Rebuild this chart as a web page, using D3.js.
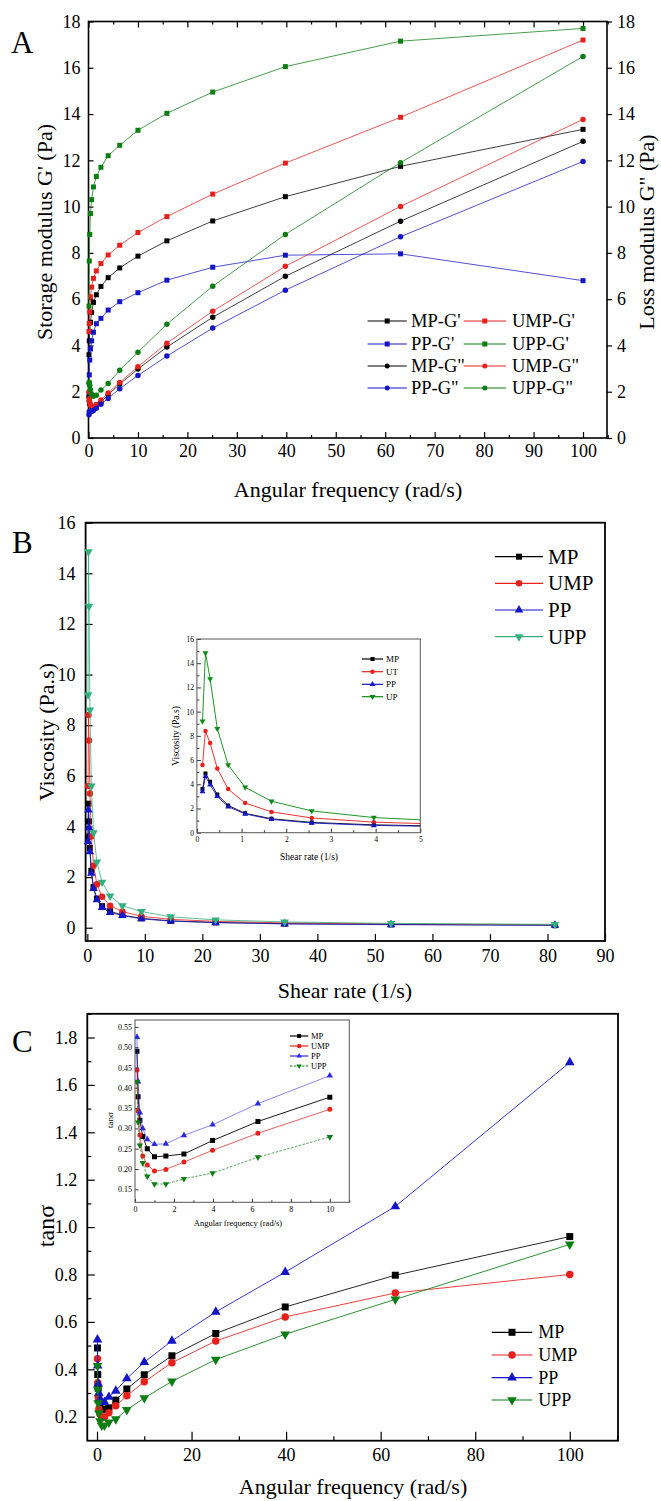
<!DOCTYPE html>
<html><head><meta charset="utf-8">
<script src="https://cdn.jsdelivr.net/npm/d3@7"></script>
<style>
body{margin:0;background:#fff;}
svg{display:block;}
</style></head><body>
<svg id="c" width="661" height="1501"></svg>
<script>
// ---------- DATA ----------
// Panel A: frequency sweep (rad/s)
const freqA = [0.1, 0.158, 0.251, 0.398, 0.631, 1, 1.585, 2.512, 3.981, 6.31, 10, 15.85, 25.12, 39.81, 63.1, 100];
const mpG1  = [3.6, 4.2, 4.6, 5.0, 5.43, 5.86, 6.19, 6.55, 6.93, 7.35, 7.86, 8.52, 9.38, 10.43, 11.74, 13.34];
const umpG1 = [4.6, 4.95, 5.45, 6.1, 6.52, 6.9, 7.22, 7.54, 7.91, 8.33, 8.88, 9.57, 10.54, 11.88, 13.86, 17.2];
const ppG1  = [1.9, 2.73, 3.37, 3.85, 4.2, 4.57, 4.94, 5.17, 5.53, 5.89, 6.28, 6.82, 7.38, 7.9, 7.96, 6.8];
const uppG1 = [5.7, 7.65, 8.8, 9.7, 10.3, 10.85, 11.3, 11.7, 12.2, 12.65, 13.3, 14.03, 14.95, 16.05, 17.15, 17.7];
const mpG2  = [1.76, 1.59, 1.47, 1.4, 1.36, 1.35, 1.44, 1.55, 1.87, 2.33, 2.98, 3.93, 5.22, 6.99, 9.37, 12.82];
const umpG2 = [2.0, 1.7, 1.55, 1.42, 1.37, 1.35, 1.44, 1.64, 1.95, 2.4, 3.08, 4.1, 5.48, 7.42, 10.01, 13.77];
const ppG2  = [1.0, 1.13, 1.14, 1.16, 1.15, 1.19, 1.29, 1.46, 1.71, 2.13, 2.7, 3.54, 4.75, 6.39, 8.7, 11.95];
const uppG2 = [2.37, 2.41, 2.27, 2.09, 1.88, 1.8, 1.85, 2.07, 2.35, 2.93, 3.71, 4.92, 6.56, 8.8, 11.9, 16.49];
const legendA = ["MP-G'", "UMP-G'", "PP-G'", "UPP-G'", 'MP-G"', 'UMP-G"', 'PP-G"', 'UPP-G"'];
const ticksAx = [0, 10, 20, 30, 40, 50, 60, 70, 80, 90, 100];
const ticksAy = [0, 2, 4, 6, 8, 10, 12, 14, 16, 18];

// Panel B: viscosity vs shear rate
const shearB = [0.125, 0.192, 0.296, 0.456, 0.70, 1.08, 1.67, 2.57, 3.96, 6.1, 9.4, 14.5, 22.3, 34.3, 52.8, 81.3];
const mpV  = [3.6, 4.9, 4.2, 3.15, 2.25, 1.6, 1.15, 0.85, 0.65, 0.5, 0.37, 0.27, 0.21, 0.16, 0.13, 0.1];
const umpV = [5.6, 8.4, 7.4, 5.3, 3.6, 2.45, 1.72, 1.22, 0.87, 0.64, 0.45, 0.33, 0.25, 0.19, 0.15, 0.12];
const ppV  = [3.4, 4.65, 3.95, 3.0, 2.15, 1.55, 1.1, 0.8, 0.6, 0.48, 0.35, 0.26, 0.2, 0.15, 0.12, 0.1];
const uppV = [9.2, 14.85, 12.7, 8.6, 5.6, 3.75, 2.6, 1.8, 1.25, 0.87, 0.64, 0.43, 0.31, 0.23, 0.17, 0.13];
const legendB = ["MP", "UMP", "PP", "UPP"];
const legendBi = ["MP", "UT", "PP", "UP"];
const ticksBx = [0, 10, 20, 30, 40, 50, 60, 70, 80, 90];
const ticksBy = [0, 2, 4, 6, 8, 10, 12, 14, 16];
const ticksBix = [0, 1, 2, 3, 4, 5];
const ticksBiy = [0, 2, 4, 6, 8, 10, 12, 14, 16];

// Panel C: tan delta vs angular frequency
const mpT  = [0.49, 0.378, 0.32, 0.28, 0.25, 0.23, 0.232, 0.237, 0.27, 0.317, 0.377, 0.457, 0.551, 0.663, 0.797, 0.96];
const umpT = [0.444, 0.343, 0.284, 0.232, 0.21, 0.195, 0.199, 0.217, 0.246, 0.288, 0.347, 0.428, 0.519, 0.621, 0.722, 0.80];
const ppT  = [0.525, 0.415, 0.339, 0.30, 0.273, 0.261, 0.262, 0.283, 0.309, 0.361, 0.43, 0.52, 0.642, 0.81, 1.087, 1.695];
const uppT = [0.415, 0.315, 0.258, 0.215, 0.182, 0.163, 0.163, 0.176, 0.19, 0.229, 0.279, 0.349, 0.441, 0.548, 0.695, 0.927];
const legendC = ["MP", "UMP", "PP", "UPP"];
const insetCCount = 11; // inset C shows the points up to 10 rad/s
const ticksCx = [0, 20, 40, 60, 80, 100];
const ticksCy = [0.2, 0.4, 0.6, 0.8, 1.0, 1.2, 1.4, 1.6, 1.8];
const ticksCix = [0, 2, 4, 6, 8, 10];
const ticksCiy = [0.15, 0.20, 0.25, 0.30, 0.35, 0.40, 0.45, 0.50, 0.55];

// ---------- DRAWING ----------
const F = "'Liberation Serif','Times New Roman',serif";
const svg = d3.select("#c");
svg.append("rect").attr("width", 661).attr("height", 1501).attr("fill", "#fff");

const C = {black: "#000", red: "#e8201c", blue: "#1515c8", green: "#0b7d12", teal: "#34b07e"};

function symPath(type, s) {
  if (type === "square") return d3.symbol().type(d3.symbolSquare).size(s * s)();
  if (type === "circle") return d3.symbol().type(d3.symbolCircle).size(Math.PI * s * s / 4)();
  if (type === "up" || type === "down") return d3.symbol().type(d3.symbolTriangle).size(s * s * 0.5)();
}
function marker(g, type, s, color, x, y) {
  g.append("path").attr("d", symPath(type, s))
    .attr("transform", `translate(${x},${y})` + (type === "down" ? " rotate(180)" : ""))
    .attr("fill", color).attr("stroke", "none");
}
function series(g, x, y, xs, ys, color, type, s, lw, dash, lineOpacity) {
  const pts = xs.map((v, i) => [v, ys[i]]);
  g.append("path").datum(pts)
    .attr("d", d3.line().x(d => x(d[0])).y(d => y(d[1])))
    .attr("fill", "none").attr("stroke", color).attr("stroke-width", lw)
    .attr("stroke-opacity", lineOpacity == null ? 1 : lineOpacity)
    .attr("stroke-dasharray", dash || null);
  pts.forEach(p => marker(g, type, s, color, x(p[0]), y(p[1])));
}
function addAxis(g, orient, scale, o) {
  const gen = {bottom: d3.axisBottom, top: d3.axisTop, left: d3.axisLeft, right: d3.axisRight}[orient](scale)
    .tickValues(o.values).tickSizeOuter(0).tickSizeInner(o.inward ? -o.size : o.size).tickPadding(o.pad == null ? 4 : o.pad)
    .tickFormat(o.labels ? (o.fmt || d3.format("")) : "");
  const tr = (orient === "bottom" || orient === "top") ? `translate(0,${o.pos})` : `translate(${o.pos},0)`;
  const a = g.append("g").attr("transform", tr).call(gen);
  a.attr("font-family", F);
  a.select(".domain").remove();
  a.selectAll("line").attr("stroke", o.color || "#000").attr("stroke-width", o.sw || 1.2);
  a.selectAll("text").attr("font-family", F).attr("font-size", o.fs || 18).attr("fill", "#000");
  return a;
}
function frame(g, x, y, sw, color) {
  const [x0, x1] = x.range(), [y0, y1] = y.range();
  g.append("rect").attr("x", x0).attr("y", y1).attr("width", x1 - x0).attr("height", y0 - y1)
    .attr("fill", "none").attr("stroke", color || "#000").attr("stroke-width", sw);
}
function text(g, str, x, y, fs, anchor, rot) {
  const t = g.append("text").attr("x", x).attr("y", y).attr("font-family", F).attr("font-size", fs)
    .attr("text-anchor", anchor || "start").attr("fill", "#000").text(str);
  if (rot) t.attr("transform", `rotate(${rot},${x},${y})`);
  return t;
}
function legendItem(g, x0, x1, y, color, type, s, label, fs, tx, dash) {
  g.append("line").attr("x1", x0).attr("x2", x1).attr("y1", y).attr("y2", y)
    .attr("stroke", color).attr("stroke-width", 1.2).attr("stroke-dasharray", dash || null);
  marker(g, type, s, color, (x0 + x1) / 2, y);
  text(g, label, tx, y + fs * 0.34, fs);
}
function range(a, b, step) { return d3.range(a, b + step / 2, step).map(v => +v.toFixed(6)); }

// ===== Panel A =====
{
  const g = svg.append("g");
  const x = d3.scaleLinear().domain([0, 104.85]).range([88.5, 607]);
  const y = d3.scaleLinear().domain([0, 18]).range([438, 21.5]);
  const minorX = range(5, 105, 10);
  addAxis(g, "bottom", x, {pos: 438, values: ticksAx, size: 6, inward: true, labels: true, fs: 18, pad: 6});
  addAxis(g, "bottom", x, {pos: 438, values: minorX, size: 3, inward: true});
  addAxis(g, "top", x, {pos: 21.5, values: ticksAx, size: 6, inward: true});
  addAxis(g, "top", x, {pos: 21.5, values: minorX, size: 3, inward: true});
  addAxis(g, "left", y, {pos: 88.5, values: ticksAy, size: 5, inward: true, labels: true, fs: 18, pad: 8});
  addAxis(g, "right", y, {pos: 607, values: ticksAy, size: 5, inward: false, labels: true, fs: 18, pad: 5});
  frame(g, x, y, 1.6);
  const lw = 1, op = 0.75;
  series(g, x, y, freqA, mpG1, C.black, "square", 5, lw, null, op);
  series(g, x, y, freqA, umpG1, C.red, "square", 5, lw, null, op);
  series(g, x, y, freqA, ppG1, C.blue, "square", 5, lw, null, op);
  series(g, x, y, freqA, uppG1, C.green, "square", 5, lw, null, op);
  series(g, x, y, freqA, mpG2, C.black, "circle", 5.5, lw, null, op);
  series(g, x, y, freqA, umpG2, C.red, "circle", 5.5, lw, null, op);
  series(g, x, y, freqA, ppG2, C.blue, "circle", 5.5, lw, null, op);
  series(g, x, y, freqA, uppG2, C.green, "circle", 5.5, lw, null, op);
  // legend
  const cols = [[367.6, 406.8, 411], [463.7, 505.9, 512]];
  const rows = [321, 344, 366, 388];
  const lc = [C.black, C.red, C.blue, C.green, C.black, C.red, C.blue, C.green];
  const lt = ["square", "square", "square", "square", "circle", "circle", "circle", "circle"];
  legendA.forEach((lab, i) => {
    const c = cols[i % 2], r = rows[Math.floor(i / 2)];
    legendItem(g, c[0], c[1], r, lc[i], lt[i], 5, lab, 18.5, c[2]);
  });
  text(g, "Storage modulus G' (Pa)", 44, 232, 22, "middle", -90).attr("dy", "0.35em");
  text(g, 'Loss modulus G" (Pa)', 646, 232, 22, "middle", -90).attr("dy", "0.35em");
  text(g, "Angular frequency (rad/s)", 348, 497, 22, "middle");
  text(g, "A", 11, 53, 31);
}

// ===== Panel B =====
{
  const g = svg.append("g");
  const x = d3.scaleLinear().domain([-0.3, 90]).range([85.6, 605]);
  const y = d3.scaleLinear().domain([-0.525, 16]).range([941, 522.7]);
  addAxis(g, "bottom", x, {pos: 941, values: ticksBx, size: 7, inward: true, labels: true, fs: 18, pad: 8});
  addAxis(g, "left", y, {pos: 85.6, values: ticksBy, size: 7, inward: true, labels: true, fs: 18, pad: 10});
  frame(g, x, y, 1.8);
  series(g, x, y, shearB, mpV, C.black, "square", 6, 1, null, 0.8);
  series(g, x, y, shearB, umpV, C.red, "circle", 6.5, 1, null, 0.8);
  series(g, x, y, shearB, ppV, C.blue, "up", 8, 1, null, 0.8);
  series(g, x, y, shearB, uppV, C.teal, "down", 8, 1, null, 0.8);
  const by = [556.7, 583.3, 610, 636.7];
  const bc = [C.black, C.red, C.blue, C.teal], bt = ["square", "circle", "up", "down"], bs = [6, 6.5, 8, 8];
  legendB.forEach((lab, i) => legendItem(g, 495, 543, by[i], bc[i], bt[i], bs[i], lab, 21, 548));
  text(g, "Viscosity (Pa.s)", 46, 732, 22, "middle", -90).attr("dy", "0.35em");
  text(g, "Shear rate (1/s)", 345, 998, 22, "middle");
  text(g, "B", 12, 553, 31);

  // inset
  const gi = svg.append("g");
  const xi = d3.scaleLinear().domain([0, 5]).range([196.9, 420.3]);
  const yi = d3.scaleLinear().domain([0, 16]).range([832.7, 639]);
  gi.append("rect").attr("x", 196.9).attr("y", 639).attr("width", 223.4).attr("height", 193.7).attr("fill", "#fff");
  gi.append("clipPath").attr("id", "clipB").append("rect").attr("x", 196.9).attr("y", 639).attr("width", 223.4).attr("height", 193.7);
  addAxis(gi, "bottom", xi, {pos: 832.7, values: ticksBix, size: 4, inward: true, labels: true, fs: 7.5, pad: 4, sw: 0.8});
  addAxis(gi, "bottom", xi, {pos: 832.7, values: range(0.5, 4.5, 1), size: 2.5, inward: true, sw: 0.8});
  addAxis(gi, "left", yi, {pos: 196.9, values: ticksBiy, size: 4, inward: true, labels: true, fs: 7.5, pad: 3, sw: 0.8});
  addAxis(gi, "left", yi, {pos: 196.9, values: range(1, 15, 2), size: 2.5, inward: true, sw: 0.8});
  const gc = gi.append("g").attr("clip-path", "url(#clipB)");
  series(gc, xi, yi, shearB, mpV, C.black, "square", 4, 1, null, 0.9);
  series(gc, xi, yi, shearB, umpV, C.red, "circle", 4.5, 1, null, 0.9);
  series(gc, xi, yi, shearB, ppV, C.blue, "up", 5.5, 1, null, 0.9);
  series(gc, xi, yi, shearB, uppV, "#0a8a10", "down", 5.5, 1, null, 0.9);
  frame(gi, xi, yi, 1, "#555");
  const iy = [659, 671.7, 684.3, 696.7];
  const ic = [C.black, C.red, C.blue, "#0a8a10"];
  legendBi.forEach((lab, i) => legendItem(gi, 362, 383, iy[i], ic[i], bt[i], [4, 4.5, 5.5, 5.5][i], lab, 9, 386));
  text(gi, "Shear rate (1/s)", 309, 860, 9.5, "middle");
  text(gi, "Viscosity (Pa.s)", 179, 736, 9.5, "middle", -90);
}

// ===== Panel C =====
{
  const g = svg.append("g");
  const x = d3.scaleLinear().domain([-2.05, 110.2]).range([87.3, 618]);
  const y = d3.scaleLinear().domain([0.0987, 1.9]).range([1440.7, 1013.8]);
  addAxis(g, "bottom", x, {pos: 1440.7, values: ticksCx, size: 9, inward: true, labels: true, fs: 18, pad: 8});
  addAxis(g, "bottom", x, {pos: 1440.7, values: range(10, 110, 20), size: 4.5, inward: true});
  addAxis(g, "left", y, {pos: 87.3, values: ticksCy, size: 7.5, inward: true, labels: true, fs: 18, pad: 10, fmt: d3.format(".1f")});
  addAxis(g, "left", y, {pos: 87.3, values: range(0.3, 1.9, 0.2), size: 4, inward: true});
  frame(g, x, y, 1.8);
  series(g, x, y, freqA, mpT, C.black, "square", 7, 1, null, 0.85);
  series(g, x, y, freqA, umpT, C.red, "circle", 7.5, 1, null, 0.85);
  series(g, x, y, freqA, ppT, C.blue, "up", 9, 1, null, 0.85);
  series(g, x, y, freqA, uppT, C.green, "down", 9, 1, null, 0.85);
  const cy = [1332.3, 1355, 1377.7, 1400];
  const cc = [C.black, C.red, C.blue, C.green], ct = ["square", "circle", "up", "down"], cs = [7, 7.5, 9, 9];
  legendC.forEach((lab, i) => legendItem(g, 491.7, 532.3, cy[i], cc[i], ct[i], cs[i], lab, 18, 538.3));
  text(g, "tanσ", 46, 1226, 24, "middle", -90).attr("dy", "0.35em");
  text(g, "Angular frequency (rad/s)", 353, 1494, 22, "middle");
  text(g, "C", 12, 1052, 31);

  // inset
  const gi = svg.append("g");
  const xi = d3.scaleLinear().domain([0, 11]).range([135, 349.3]);
  const yi = d3.scaleLinear().domain([0.118, 0.567]).range([1202.3, 1020]);
  gi.append("rect").attr("x", 135).attr("y", 1020).attr("width", 214.3).attr("height", 182.3).attr("fill", "#fff");
  gi.append("clipPath").attr("id", "clipC").append("rect").attr("x", 135).attr("y", 1020).attr("width", 214.3).attr("height", 182.3);
  addAxis(gi, "bottom", xi, {pos: 1202.3, values: ticksCix, size: 3.5, inward: true, labels: true, fs: 8, pad: 4, sw: 0.8});
  addAxis(gi, "bottom", xi, {pos: 1202.3, values: range(1, 11, 2), size: 2, inward: true, sw: 0.8});
  addAxis(gi, "left", yi, {pos: 135, values: ticksCiy, size: 3.5, inward: true, labels: true, fs: 8, pad: 3, sw: 0.8, fmt: d3.format(".2f")});
  const gc = gi.append("g").attr("clip-path", "url(#clipC)");
  const fI = freqA.slice(0, insetCCount);
  series(gc, xi, yi, fI, mpT.slice(0, insetCCount), C.black, "square", 5, 1, null, 0.9);
  series(gc, xi, yi, fI, umpT.slice(0, insetCCount), C.red, "circle", 5, 0.8, null, 0.9);
  series(gc, xi, yi, fI, ppT.slice(0, insetCCount), "#2a2ae0", "up", 6, 0.8, null, 0.7);
  series(gc, xi, yi, fI, uppT.slice(0, insetCCount), C.green, "down", 6, 0.8, "2.5,1.5", 0.9);
  frame(gi, xi, yi, 1, "#555");
  const iy = [1036, 1046, 1056, 1066];
  const ic = [C.black, C.red, "#2a2ae0", C.green];
  legendC.forEach((lab, i) => legendItem(gi, 290, 308.3, iy[i], ic[i], ct[i], [4, 4.5, 5, 5][i], lab, 8.5, 311, i === 3 ? "2.5,1.5" : null));
  text(gi, "Angular frequency (rad/s)", 238, 1225.5, 8.5, "middle");
  text(gi, "tanσ", 113, 1120, 9, "middle", -90);
}
</script>
</body></html>
